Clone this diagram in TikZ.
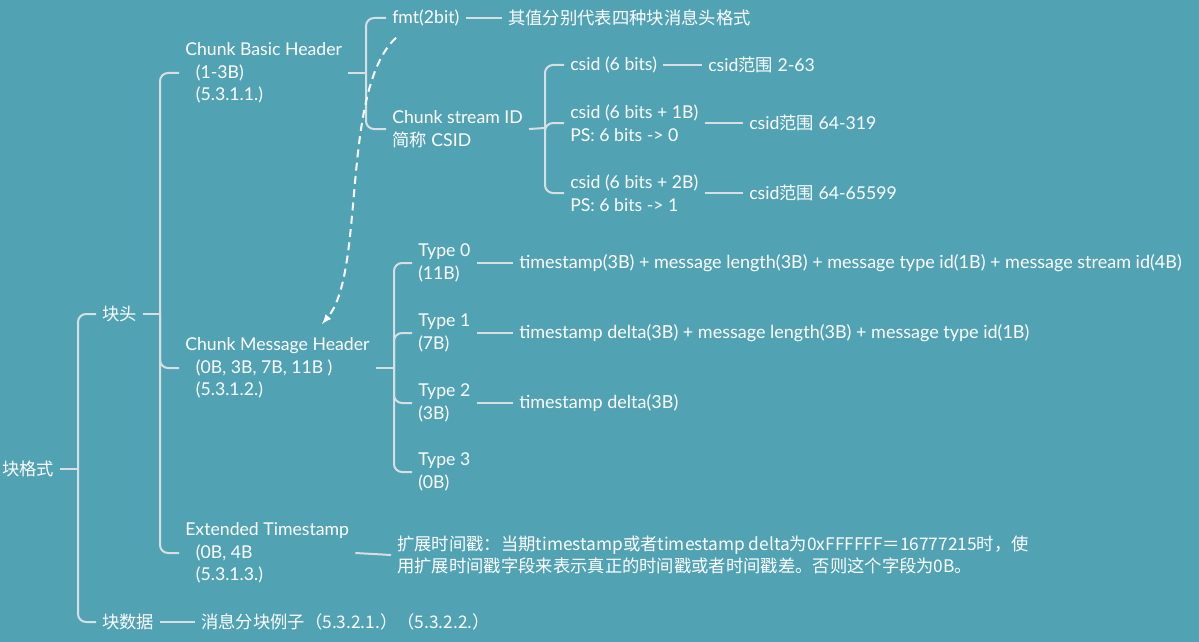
\documentclass[tikz,border=0pt]{standalone}
\usepackage{fontspec}
\setmainfont{Lato}
\newfontfamily\cjk{Noto Sans CJK SC}[Scale=0.98]
\usetikzlibrary{calc,arrows}
\definecolor{mapbg}{RGB}{81,163,180}
\definecolor{mapline}{RGB}{216,222,226}
\newcommand{\zh}[1]{{\cjk #1}}

\begin{document}
\begin{tikzpicture}[x=0.75pt,y=-0.75pt,
    topic/.style={anchor=west,text=white,align=left,inner xsep=4.5pt,inner ysep=1pt,
        font=\fontsize{13.25}{16.9}\selectfont},
    detail/.style={topic,font=\fontsize{13.5}{16.9}\selectfont},
    branch/.style={draw=mapline,line width=1.5pt,rounded corners=6pt},
    link/.style={draw=mapline,line width=1.5pt}]
    \fill[mapbg] (0,0) rectangle (1199,642);
    \useasboundingbox (0,0) rectangle (1199,642);

    % levels of the map
    \node[topic] (root) at (-4,469) {\zh{块格式}};
    \node[topic] (head) at (96,314) {\zh{块头}};
    \node[topic] (data) at (96,622) {\zh{块数据}};
    \node[topic] (basic) at (179,73) {Chunk Basic Header\\\hspace{8pt}(1-3B)\\\hspace{8pt}(5.3.1.1.)};
    \node[topic] (msg) at (179,368) {Chunk Message Header\\\hspace{8pt}(0B, 3B, 7B, 11B )\\\hspace{8pt}(5.3.1.2.)};
    \node[topic] (ext) at (179,553) {Extended Timestamp\\\hspace{8pt}(0B, 4B\\\hspace{8pt}(5.3.1.3.)};
    \node[topic] (fmt) at (386,18) {fmt(2bit)};
    \node[topic] (fmtd) at (502,18) {\zh{其值分别代表四种块消息头格式}};
    \node[topic] (csid) at (386,129) {Chunk stream ID\\\zh{简称} CSID};
    \node[topic] (c0) at (564,65) {csid (6 bits)};
    \node[topic] (c1) at (564,123) {csid (6 bits + 1B)\\PS: 6 bits -> 0};
    \node[topic] (c2) at (564,193) {csid (6 bits + 2B)\\PS: 6 bits -> 1};
    \node[topic] (c0d) at (702,65) {csid\zh{范围} 2-63};
    \node[topic] (c1d) at (743,123) {csid\zh{范围} 64-319};
    \node[topic] (c2d) at (743,193) {csid\zh{范围} 64-65599};
    \foreach \i/\y/\b in {0/263/11B, 1/333/7B, 2/403/3B, 3/472/0B}
        \node[topic] (type\i) at (412,\y) {Type \i\\(\b)};
    \node[detail] (t0d) at (513,263)
        {timestamp(3B) + message length(3B) + message type id(1B) + message stream id(4B)};
    \node[detail] (t1d) at (513,333)
        {timestamp delta(3B) + message length(3B) + message type id(1B)};
    \node[detail] (t2d) at (513,403) {timestamp delta(3B)};
    \node[topic] (extd) at (391,555)
        {\zh{扩展时间戳：当期timestamp或者timestamp delta为0xFFFFFF＝16777215时，使}\\
         \zh{用扩展时间戳字段来表示真正的时间戳或者时间戳差。否则这个字段为0B。}};
    \node[topic] (datad) at (195,622) {\zh{消息分块例子（5.3.2.1.）（5.3.2.2.）}};

    % brackets
    \draw[link] (root.east) -- (78,469);
    \foreach \c in {head, data}
        \draw[branch] (78,469) |- (\c.west);
    \draw[link] (head.east) -- (160,314);
    \foreach \c in {basic, msg, ext}
        \draw[branch] (160,314) |- (\c.west);
    \draw[link] (basic.east) -- (366,73);
    \foreach \c in {fmt, csid}
        \draw[branch] (366,73) |- (\c.west);
    \draw[link] (csid.east) -- (545,128);
    \foreach \c in {c0, c1, c2}
        \draw[branch] (545,128) |- (\c.west);
    \draw[link] (msg.east) -- (394,368);
    \foreach \c in {type0, type1, type2, type3}
        \draw[branch] (394,368) |- (\c.west);

    % leaves
    \draw[link] (fmt.east) -- (fmtd.west);
    \draw[link] (c0.east) -- (c0d.west);
    \draw[link] (c1.east) -- (c1d.west);
    \draw[link] (c2.east) -- (c2d.west);
    \foreach \i in {0,1,2}
        \draw[link] (type\i.east) -- (t\i d.west);
    \draw[link] (ext.east) -- (extd.west);
    \draw[link] (data.east) -- (datad.west);

    \draw[white,line width=1.5pt,dash pattern=on 6pt off 4pt,-latex]
        ($(fmt.south west)+(10,10)$) .. controls (340,90) and (366,272) .. ($(msg.north west)+(143,-12)$);
\end{tikzpicture}
\end{document}
